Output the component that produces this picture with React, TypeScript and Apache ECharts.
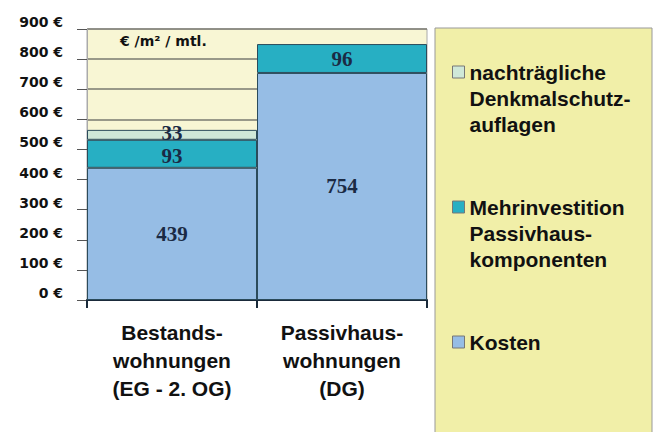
import React, { useEffect, useRef } from "react";
import * as echarts from "echarts";

const categories = ["Bestands-\nwohnungen\n(EG - 2. OG)", "Passivhaus-\nwohnungen\n(DG)"];
const kosten = [439, 754];
const mehrinvestition = [93, 96];
const denkmalschutz: (number | null)[] = [33, null];
const seriesNames = [
  "Kosten",
  "Mehrinvestition\nPassivhaus-\nkomponenten",
  "nachträgliche\nDenkmalschutz-\nauflagen",
];
const unitLabel = "€ /m² / mtl.";

const COLORS = ["#96BDE5", "#27AFC3", "#CFE8D8"];

export default function App() {
  const ref = useRef<HTMLDivElement>(null);
  useEffect(() => {
    if (!ref.current) return;
    const chart = echarts.init(ref.current, null, { renderer: "svg" });
    const labelStyle = {
      show: true,
      position: "inside" as const,
      fontFamily: "Liberation Serif",
      fontWeight: "bold" as const,
      fontSize: 21,
      lineHeight: 16,
      color: "#1b2a44",
    };
    const barCommon = {
      type: "bar" as const,
      stack: "total",
      barCategoryGap: "0%",
      label: labelStyle,
    };
    chart.setOption({
      animation: false,
      backgroundColor: "#ffffff",
      grid: {
        left: 87,
        right: 230,
        top: 29,
        bottom: 132,
        show: true,
        backgroundColor: "#F8F6D4",
        borderColor: "#aaaaaa",
        borderWidth: 1,
      },
      xAxis: {
        type: "category",
        data: categories,
        axisLine: { lineStyle: { color: "#1a2a3a", width: 2 } },
        axisTick: { show: true, length: 8, lineStyle: { color: "#1a2a3a", width: 2 } },
        axisLabel: {
          interval: 0,
          margin: 18,
          fontFamily: "Liberation Sans",
          fontWeight: "bold",
          fontSize: 21,
          lineHeight: 28,
          color: "#111111",
        },
      },
      yAxis: {
        type: "value",
        min: 0,
        max: 900,
        interval: 100,
        axisLine: { show: true, lineStyle: { color: "#aaaaaa", width: 1 } },
        axisTick: { show: true, length: 10, lineStyle: { color: "#555555" } },
        splitLine: { show: true, lineStyle: { color: "#7a7a70", width: 1.5 } },
        axisLabel: {
          formatter: "{value} €",
          margin: 24,
          verticalAlign: "bottom",
          fontFamily: "DejaVu Sans",
          fontWeight: "bold",
          fontSize: 14,
          color: "#111111",
        },
      },
      legend: {
        orient: "vertical",
        left: 452,
        top: 7,
        padding: 0,
        itemGap: 5,
        itemWidth: 12,
        itemHeight: 12,
        icon: "rect",
        selectedMode: false,
        itemStyle: { borderColor: "#777777", borderWidth: 1 },
        formatter: (name: string) =>
          name.includes("\n") ? "\n\n" + name : "\n\n" + name + "\n\n",
        textStyle: {
          fontFamily: "Liberation Sans",
          fontWeight: "bold",
          fontSize: 21,
          lineHeight: 26,
          color: "#111111",
        },
        data: [seriesNames[2], seriesNames[1], seriesNames[0]],
      },
      graphic: [
        {
          type: "rect",
          z: -10,
          shape: { x: 435, y: 28, width: 217, height: 420 },
          style: { fill: "#F1EFA8", stroke: "#999999", lineWidth: 1 },
        },
        {
          type: "text",
          left: 120,
          top: 34,
          z: 10,
          style: {
            text: unitLabel,
            fontFamily: "DejaVu Sans",
            fontWeight: "bold",
            fontSize: 14,
            fill: "#111111",
          },
        },
      ],
      series: [
        {
          ...barCommon,
          name: seriesNames[0],
          data: kosten,
          itemStyle: { color: COLORS[0], borderColor: "#2b4b5b", borderWidth: 1 },
        },
        {
          ...barCommon,
          name: seriesNames[1],
          data: mehrinvestition.map((v, i) =>
            i === 0 ? { value: v, label: { offset: [0, 2] } } : v
          ),
          itemStyle: { color: COLORS[1], borderColor: "#2b4b5b", borderWidth: 1 },
        },
        {
          ...barCommon,
          name: seriesNames[2],
          data: denkmalschutz.map((v) =>
            v == null ? v : { value: v, label: { offset: [0, -2] } }
          ),
          itemStyle: { color: COLORS[2], borderColor: "#2b4b5b", borderWidth: 1 },
        },
      ],
    });
    return () => chart.dispose();
  }, []);
  return (
    <div
      ref={ref}
      style={{ position: "fixed", left: 0, top: 0, width: 657, height: 432 }}
    />
  );
}
